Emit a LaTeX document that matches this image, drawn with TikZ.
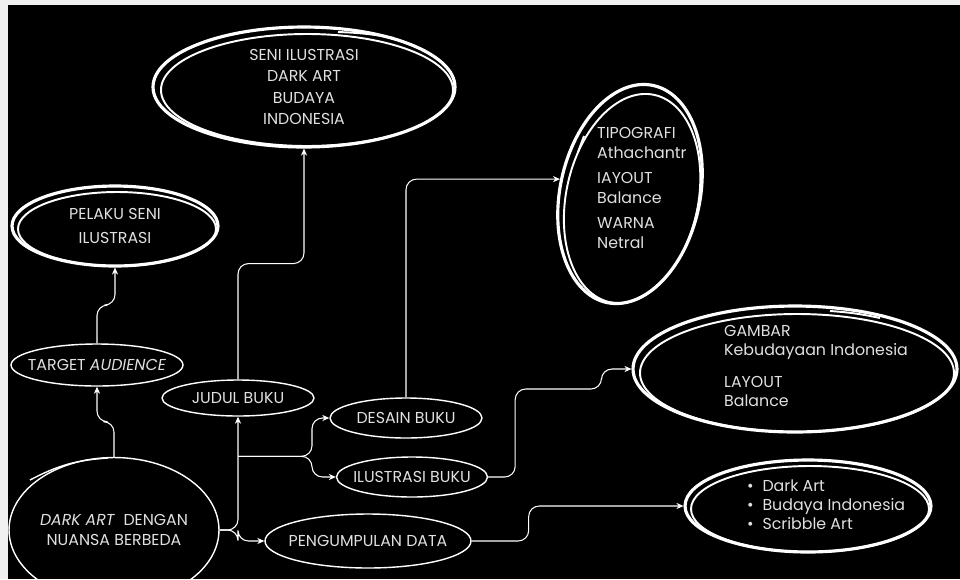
\documentclass[tikz,border=0pt]{standalone}
\usepackage{fontspec}
\setmainfont{Poppins}
\usetikzlibrary{arrows.meta,calc,shapes.geometric}

\begin{document}
\begin{tikzpicture}[x=0.02cm, y=-0.02cm, >=Stealth,
  every node/.style={text=white!88!black, font=\fontsize{9}{12}\selectfont},
  thin oval/.style={ellipse, draw=white, line width=0.8pt, inner xsep=-20pt, inner ysep=-6pt, align=center},
  bold oval/.style={ellipse, draw=white, line width=1.8pt, inner sep=0pt, align=center},
  loop2/.style={white, line width=1.1pt},
  link/.style={white, line width=0.6pt, rounded corners=6pt, -{Stealth[length=4pt,width=3.5pt]}}]

% background
\fill[gray!12] (0,0) rectangle (960,579);
\fill[black] (8,5) rectangle (960,579);
\useasboundingbox (0,0) rectangle (960,579);

% scribbled goals
\node[bold oval, minimum width=6.04cm, minimum height=2.4cm] (seni) at (304,87) {SENI ILUSTRASI\\DARK ART\\BUDAYA\\INDONESIA};
\draw[loop2] ($(seni.center)+(3,3)$) ellipse (146 and 56);
\draw[loop2] (338,32) to[bend left=4] (394,38);

\node[bold oval, minimum width=4.12cm, minimum height=1.6cm, font=\fontsize{9}{14}\selectfont] (pelaku) at (115,226) {PELAKU SENI\\ILUSTRASI};
\draw[loop2] ($(pelaku.center)+(2,3)$) ellipse (99 and 37);

\node[bold oval, minimum width=2.8cm, minimum height=4.44cm, rotate=-12] (tipo) at (630,194) {};
\draw[loop2, rotate around={-12:(tipo.center)}] ($(tipo.center)+(3,4)$) ellipse (66 and 106);
\draw[loop2] (578,152) -- (584,136);
\node[align=left, anchor=west, font=\fontsize{9}{11.4}\selectfont] (tipotext) at (591,188)
  {TIPOGRAFI\\Athachantr\\[3pt]IAYOUT\\Balance\\[3pt]WARNA\\Netral};

\node[bold oval, minimum width=6.48cm, minimum height=2.52cm] (gambar) at (795,369) {};
\draw[loop2] ($(gambar.center)+(2,4)$) ellipse (157 and 59);
\draw[loop2] (830,311) to[bend left=4] (880,318);
\node[align=left, anchor=west, font=\fontsize{9}{10.8}\selectfont] (gambartext) at (718,366)
  {GAMBAR\\Kebudayaan Indonesia\\[7pt]LAYOUT\\Balance};

\node[bold oval, minimum width=4.92cm, minimum height=1.84cm] (bullets) at (808,506) {};
\draw[loop2] ($(bullets.center)+(2,3)$) ellipse (119 and 43);
\node[align=left, anchor=west, font=\fontsize{9}{10.8}\selectfont] (bullettext) at (741,505)
  {\textbullet\hspace{5pt}Dark Art\\\textbullet\hspace{5pt}Budaya Indonesia\\\textbullet\hspace{5pt}Scribble Art};

% plain ovals
\node[thin oval, minimum width=3.44cm, minimum height=0.84cm] (target) at (97,365) {TARGET \textit{AUDIENCE}};
\node[thin oval, minimum width=3.04cm, minimum height=0.72cm] (judul) at (238,398) {JUDUL BUKU};
\node[thin oval, minimum width=3.04cm, minimum height=0.8cm] (desain) at (406,418) {DESAIN BUKU};
\node[thin oval, minimum width=3.02cm, minimum height=0.8cm] (ilustrasi) at (412,477) {ILUSTRASI BUKU};
\node[thin oval, minimum width=4.12cm, minimum height=1.08cm] (peng) at (368,541) {PENGUMPULAN DATA};
\node[thin oval, minimum width=4.2cm, minimum height=2.9cm, font=\fontsize{9}{11.4}\selectfont] (dark) at (114,530) {\textit{DARK ART}\ \ DENGAN\\NUANSA BERBEDA};
\draw[white, line width=0.8pt] (30,480) to[bend left=12] (108,458);

% links
\draw[link] (dark.north) |- ([yshift=-0.7cm]target.south) -- (target.south);
\draw[link] (target.north) |- ([yshift=-0.75cm]pelaku.south) -- (pelaku.south);
\draw[link] (judul.north) |- ([yshift=-2.3cm]seni.south) -- (seni.south);
\draw[link] (dark.east) -- (judul.south |- dark.east) -- (judul.south);
\draw[link] (dark.east) -- (judul.south |- dark.east) |- (peng.west);
\draw[link] (judul.south |- ilustrasi.north) -- ++(74,0) |- (desain.west);
\draw[link] (judul.south |- ilustrasi.north) -- ++(74,0) |- (ilustrasi.west);
\draw[link] (desain.north) |- (tipo.west);
\draw[link] (ilustrasi.east) -- ++(27,0) |- ([xshift=-0.6cm, yshift=-0.4cm]gambar.west) |- (gambar.west);
\draw[link] (peng.east) -- ++(57,0) |- (bullets.west);
\end{tikzpicture}
\end{document}
